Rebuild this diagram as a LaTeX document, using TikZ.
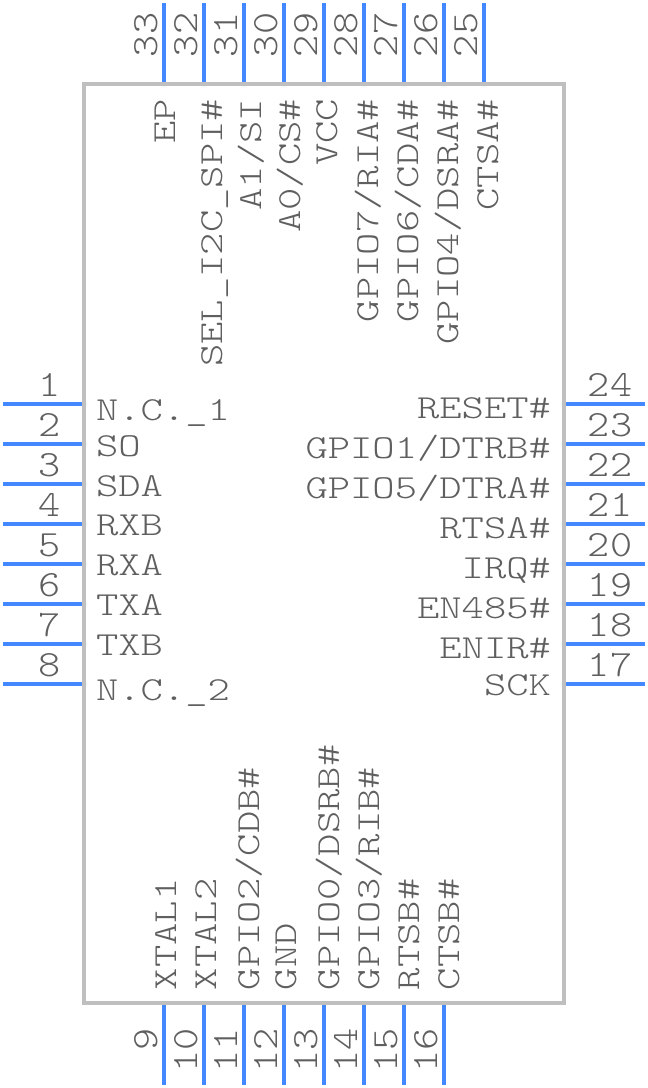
\documentclass[tikz,border=0pt]{standalone}
\usepackage{fontspec}
\newfontfamily\lblfont[FakeStretch=1.265]{Latin Modern Mono Light}
\newfontfamily\numfont[FakeStretch=1.14]{Latin Modern Mono Light}
\definecolor{pinblue}{HTML}{4488FF}
\definecolor{bodygray}{HTML}{BFBFBF}
\definecolor{txtgray}{HTML}{5F5F5F}
\tikzset{
  pinline/.style={draw=pinblue,line width=4pt},
  bodybox/.style={draw=bodygray,line width=4pt},
  lbl/.style={inner sep=0pt,outer sep=0pt,text=txtgray,font=\lblfont\fontsize{33.6}{36}\selectfont},
  num/.style={inner sep=0pt,outer sep=0pt,text=txtgray,font=\numfont\fontsize{37}{40}\selectfont},
}
\begin{document}
\begin{tikzpicture}[x=1pt,y=-1pt]
\useasboundingbox (0,0) rectangle (648,1088);
\draw[bodybox] (84,84) rectangle (564,1003);
% left pins and numbers
\foreach \n/\y in {1/404,2/444,3/484,4/524,5/564,6/604,7/644,8/684}{
  \coordinate (pa\n) at (3,\y);
  \coordinate (pb\n) at (82,\y);
  \draw[pinline] (pa\n) -- (pb\n);
  \node[num,anchor=base] (n\n) at (50,\y-8) {\n};
}
% right pins and numbers
\foreach \n/\y in {24/404,23/444,22/484,21/524,20/564,19/604,18/644,17/684}{
  \coordinate (pa\n) at (566,\y);
  \coordinate (pb\n) at (645,\y);
  \draw[pinline] (pa\n) -- (pb\n);
  \node[num,anchor=base] (n\n) at (610,\y-8) {\n};
}
% bottom pins and numbers
\foreach \n/\x in {9/164,10/204,11/244,12/284,13/324,14/364,15/404,16/444}{
  \coordinate (pa\n) at (\x,1005);
  \coordinate (pb\n) at (\x,1085);
  \draw[pinline] (pa\n) -- (pb\n);
  \node[num,rotate=90,anchor=base east] (n\n) at (\x-7,1028) {\n};
}
% top pins and numbers
\foreach \n/\x in {33/164,32/204,31/244,30/284,29/324,28/364,27/404,26/444,25/484}{
  \coordinate (pa\n) at (\x,3);
  \coordinate (pb\n) at (\x,82);
  \draw[pinline] (pa\n) -- (pb\n);
  \node[num,rotate=90,anchor=base west] (n\n) at (\x-7,57) {\n};
}
% left labels
\node[lbl,anchor=base west] (l1) at (96,420) {N.C.\_1};
\node[lbl,anchor=base west] (l2) at (96,456) {SO};
\node[lbl,anchor=base west] (l3) at (96,496) {SDA};
\node[lbl,anchor=base west] (l4) at (96,535) {RXB};
\node[lbl,anchor=base west] (l5) at (96,575) {RXA};
\node[lbl,anchor=base west] (l6) at (96,615) {TXA};
\node[lbl,anchor=base west] (l7) at (96,655) {TXB};
\node[lbl,anchor=base west] (l8) at (96,700) {N.C.\_2};
% right labels
\node[lbl,anchor=base east] (l24) at (551,418) {RESET\#};
\node[lbl,anchor=base east] (l23) at (551,458) {GPIO1/DTRB\#};
\node[lbl,anchor=base east] (l22) at (551,498) {GPIO5/DTRA\#};
\node[lbl,anchor=base east] (l21) at (551,538) {RTSA\#};
\node[lbl,anchor=base east] (l20) at (551,578) {IRQ\#};
\node[lbl,anchor=base east] (l19) at (551,618) {EN485\#};
\node[lbl,anchor=base east] (l18) at (551,658) {ENIR\#};
\node[lbl,anchor=base east] (l17) at (551,695) {SCK};
% top labels
\node[lbl,rotate=90,anchor=base east] (l33) at (175,99) {EP};
\node[lbl,rotate=90,anchor=base east] (l32) at (222,99) {SEL\_I2C\_SPI\#};
\node[lbl,rotate=90,anchor=base east] (l31) at (261,99) {A1/SI};
\node[lbl,rotate=90,anchor=base east] (l30) at (300,99) {A0/CS\#};
\node[lbl,rotate=90,anchor=base east] (l29) at (337,99) {VCC};
\node[lbl,rotate=90,anchor=base east] (l28) at (378,99) {GPIO7/RIA\#};
\node[lbl,rotate=90,anchor=base east] (l27) at (418,99) {GPIO6/CDA\#};
\node[lbl,rotate=90,anchor=base east] (l26) at (458,99) {GPIO4/DSRA\#};
\node[lbl,rotate=90,anchor=base east] (l25) at (498,99) {CTSA\#};
% bottom labels
\node[lbl,rotate=90,anchor=base west] (l9) at (176,990) {XTAL1};
\node[lbl,rotate=90,anchor=base west] (l10) at (216,990) {XTAL2};
\node[lbl,rotate=90,anchor=base west] (l11) at (259,990) {GPIO2/CDB\#};
\node[lbl,rotate=90,anchor=base west] (l12) at (296,990) {GND};
\node[lbl,rotate=90,anchor=base west] (l13) at (339,990) {GPIO0/DSRB\#};
\node[lbl,rotate=90,anchor=base west] (l14) at (379,990) {GPIO3/RIB\#};
\node[lbl,rotate=90,anchor=base west] (l15) at (419,990) {RTSB\#};
\node[lbl,rotate=90,anchor=base west] (l16) at (459,990) {CTSB\#};
\end{tikzpicture}
\end{document}
